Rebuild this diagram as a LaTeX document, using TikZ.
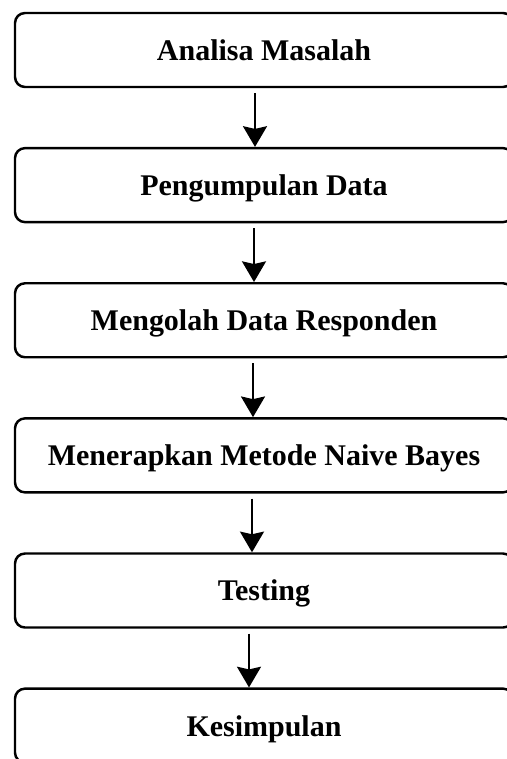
\documentclass[tikz,border=0pt]{standalone}
\usepackage{fontspec}
\setmainfont{Liberation Serif}
\usepackage{tikz}
\usetikzlibrary{arrows.meta,positioning,calc}

\begin{document}
\begin{tikzpicture}[
  font=\fontsize{25.6pt}{30pt}\selectfont\bfseries,
  box/.style={draw, line width=2.1pt, rounded corners=0.3cm, align=center,
    minimum width=14.94cm, minimum height=2.22cm, inner sep=0pt, text depth=0pt},
  arr/.style={-{Stealth[length=0.62cm, width=0.72cm, inset=0.08cm]}, line width=1.8pt}
]
\useasboundingbox (0,0) rectangle (15.21,-22.77);
\clip (0,0) rectangle (15.21,-22.77);
\node[box] (analisa) at (7.92,-1.5) {Analisa Masalah};
\node[box, below=1.76cm of analisa] (kumpul) {Pengumpulan Data};
\node[box, below=1.76cm of kumpul] (olah) {Mengolah Data Responden};
\node[box, below=1.76cm of olah] (nb) {Menerapkan Metode Naive Bayes};
\node[box, below=1.76cm of nb] (test) {Testing};
\node[box, below=1.76cm of test] (simpul) {Kesimpulan};
% arrows between the steps
\foreach \a/\b/\dx in {analisa/kumpul/-0.27, kumpul/olah/-0.3, olah/nb/-0.33,
    nb/test/-0.36, test/simpul/-0.45}
  \draw[arr] ([xshift=\dx cm, yshift=-0.15cm]\a.south) -- ([xshift=\dx cm]\b.north);
\end{tikzpicture}
\end{document}
